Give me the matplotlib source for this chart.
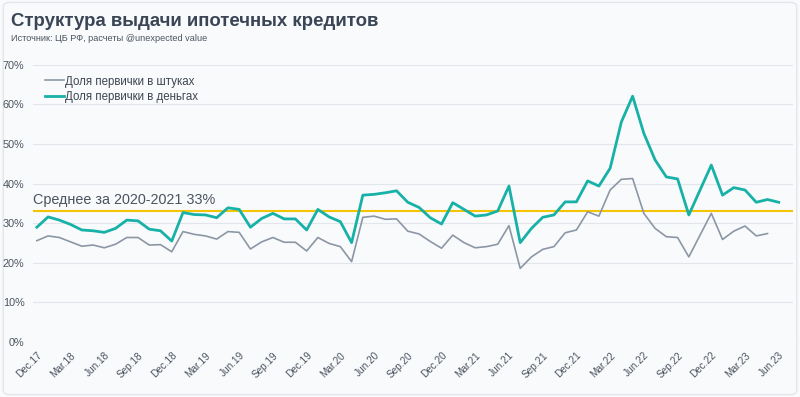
import numpy as np
import matplotlib
matplotlib.use("Agg")
import matplotlib.pyplot as plt
from matplotlib.patches import FancyBboxPatch

plt.rcParams['font.family'] = ['Liberation Sans', 'DejaVu Sans']

# Месяцы Dec.17 .. Jun.23
months = ['Jan', 'Feb', 'Mar', 'Apr', 'May', 'Jun', 'Jul', 'Aug', 'Sep', 'Oct', 'Nov', 'Dec']
labels = ['Dec.17'] + [f"{m}.{y}" for y in range(18, 24) for m in months][:66]

# Доля первички в деньгах, %
share_money = [29.0, 31.6, 30.8, 29.7, 28.3, 28.1, 27.7, 28.7, 30.8, 30.6, 28.5, 28.1,
               25.5, 32.7, 32.2, 32.1, 31.4, 33.9, 33.5, 29.0, 31.2, 32.5, 31.1, 31.1,
               28.3, 33.5, 31.6, 30.4, 25.1, 37.1, 37.3, 37.7, 38.2, 35.3, 34.0, 31.4,
               29.8, 35.2, 33.5, 31.8, 32.1, 33.1, 39.4, 25.1, 28.7, 31.5, 32.1, 35.4,
               35.4, 40.7, 39.4, 43.9, 55.6, 62.1, 52.7, 46.0, 41.7, 41.2, 32.1, 38.4,
               44.7, 37.1, 39.0, 38.4, 35.3, 36.0, 35.3]

# Доля первички в штуках, % (последнего месяца нет)
share_count = [25.6, 26.8, 26.4, 25.3, 24.2, 24.5, 23.8, 24.7, 26.4, 26.4, 24.5, 24.6,
               22.8, 27.9, 27.2, 26.8, 26.0, 27.9, 27.7, 23.5, 25.3, 26.4, 25.2, 25.2,
               23.0, 26.4, 24.9, 24.1, 20.3, 31.5, 31.8, 31.0, 31.1, 28.0, 27.3, 25.4,
               23.7, 27.0, 25.1, 23.8, 24.1, 24.7, 29.4, 18.6, 21.5, 23.4, 24.1, 27.6,
               28.3, 32.9, 31.8, 38.4, 41.1, 41.3, 32.5, 28.7, 26.6, 26.4, 21.5, 27.0,
               32.5, 25.9, 28.0, 29.3, 26.8, 27.4, np.nan]

avg_2020_2021 = 33.0
y_ticks = [0, 10, 20, 30, 40, 50, 60, 70]

bg = '#f9fafc'
fig = plt.figure(figsize=(8.0, 3.97), dpi=100, facecolor=bg)
fig.patches.append(FancyBboxPatch((0.004, 0.006), 0.992, 0.988, boxstyle="round,pad=0,rounding_size=0.01",
                                  transform=fig.transFigure, facecolor=bg, edgecolor='#e3e6ea',
                                  linewidth=1.0, zorder=-10))

ax = fig.add_axes([0.041, 0.1385, 0.950, 0.698])
ax.set_facecolor(bg)

x = np.arange(len(labels))
ax.plot(x, share_count, color='#8c97a5', lw=1.2, label='Доля первички в штуках', zorder=3)
ax.plot(x, share_money, color='#17b1a7', lw=2.0, label='Доля первички в деньгах', zorder=4)
ax.axhline(avg_2020_2021, color='#f5c400', lw=1.5, zorder=2)
ax.text(-0.3, avg_2020_2021 + 1.0, 'Среднее за 2020-2021 33%', fontsize=10.4,
        color='#4a5460', va='bottom', ha='left')

ax.set_xlim(-0.36, 67.25)
ax.set_ylim(0, 70)
ax.set_yticks(y_ticks)
ax.set_yticklabels([f"{v}%" for v in y_ticks])
ax.set_xticks(x[::3])
ax.set_xticklabels(labels[::3], rotation=45, ha='right', va='top', rotation_mode='anchor')
ax.tick_params(axis='both', length=0, colors='#4a5460')
ax.tick_params(axis='x', pad=6, labelsize=7.2)
ax.tick_params(axis='y', pad=6, labelsize=7.8)
ax.grid(axis='y', color='#e2e5ea', lw=0.8)
ax.grid(axis='x', visible=False)
for s in ax.spines.values():
    s.set_visible(False)

ax.legend(loc='upper left', bbox_to_anchor=(0.004, 0.995), frameon=False, fontsize=8.3,
          handlelength=1.6, handletextpad=0.1, labelspacing=0.3, borderaxespad=0.4,
          labelcolor='#3d4652')

fig.text(0.014, 0.945, 'Структура выдачи ипотечных кредитов', fontsize=13.4,
         fontweight='bold', color='#3a4555', va='center', ha='left')
fig.text(0.014, 0.903, 'Источник: ЦБ РФ, расчеты @unexpected value', fontsize=6.6,
         color='#4a5460', va='center', ha='left')

fig.savefig('out.png', dpi=100, facecolor=bg)
